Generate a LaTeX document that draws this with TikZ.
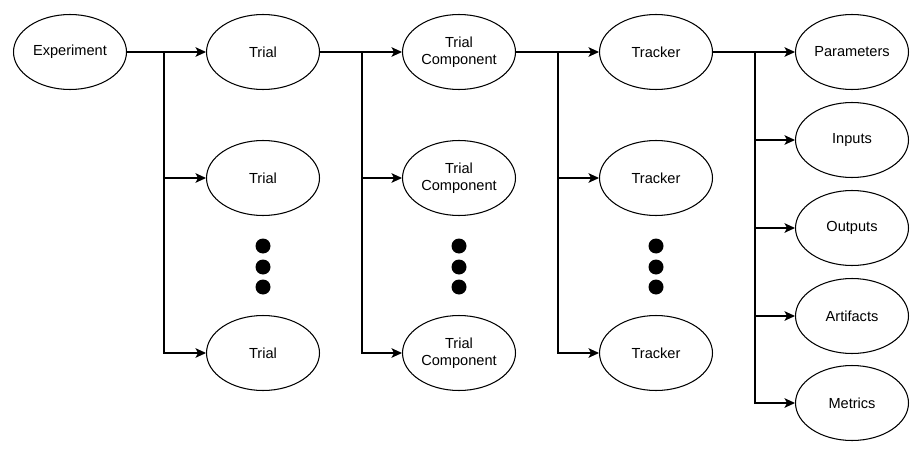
\documentclass[tikz,border=0pt]{standalone}
\usepackage{fontspec}
\setmainfont{Liberation Sans}
\usepackage{tikz}
\usetikzlibrary{shapes, positioning, calc, arrows.meta}

\begin{document}
\begin{tikzpicture}[x=0.02cm, y=-0.02cm, line width=0.6pt,
    every node/.style={ellipse, draw, fill=white, inner sep=0pt, minimum width=2.26cm, minimum height=1.5cm, align=center, font=\fontsize{8.3}{9.6}\selectfont},
    dot/.style={circle, fill=black, draw=none, minimum size=0.3cm, minimum width=0.3cm, minimum height=0.3cm},
    arr/.style={-{Stealth[length=6pt, width=5.5pt, inset=1.5pt]}}]
    \useasboundingbox (0,0) rectangle (923,453);

    \node (exp) at (70,52) {Experiment};
    \node (tr1) at (263,52) {Trial};
    \node (tr2) at (263,178) {Trial};
    \node (tr3) at (263,353) {Trial};
    \node (tc1) at (459,52) {Trial\\Component};
    \node (tc2) at (459,178) {Trial\\Component};
    \node (tc3) at (459,353) {Trial\\Component};
    \node (tk1) at (656,52) {Tracker};
    \node (tk2) at (656,178) {Tracker};
    \node (tk3) at (656,353) {Tracker};
    \node (par) at (852,52) {Parameters};
    \node (inp) at (852,140) {Inputs};
    \node (out) at (852,228) {Outputs};
    \node (art) at (852,316) {Artifacts};
    \node (met) at (852,403) {Metrics};

    % dots
    \foreach \x/\c in {263/a, 459/b, 656/c} {
        \node[dot] (\c1) at (\x,246) {};
        \node[dot] (\c2) at (\x,267) {};
        \node[dot] (\c3) at (\x,287) {};
    }

    \coordinate (j1) at (164,52);
    \coordinate (j2) at (362,52);
    \coordinate (j3) at (558,52);
    \coordinate (j4) at (755,52);

    \draw[arr] (exp) -- (tr1);
    \draw[arr] (j1) |- (tr2);
    \draw[arr] (j1) |- (tr3);
    \draw[arr] (tr1) -- (tc1);
    \draw[arr] (j2) |- (tc2);
    \draw[arr] (j2) |- (tc3);
    \draw[arr] (tc1) -- (tk1);
    \draw[arr] (j3) |- (tk2);
    \draw[arr] (j3) |- (tk3);
    \draw[arr] (tk1) -- (par);
    \draw[arr] (j4) |- (inp);
    \draw[arr] (j4) |- (out);
    \draw[arr] (j4) |- (art);
    \draw[arr] (j4) |- (met);
\end{tikzpicture}
\end{document}
